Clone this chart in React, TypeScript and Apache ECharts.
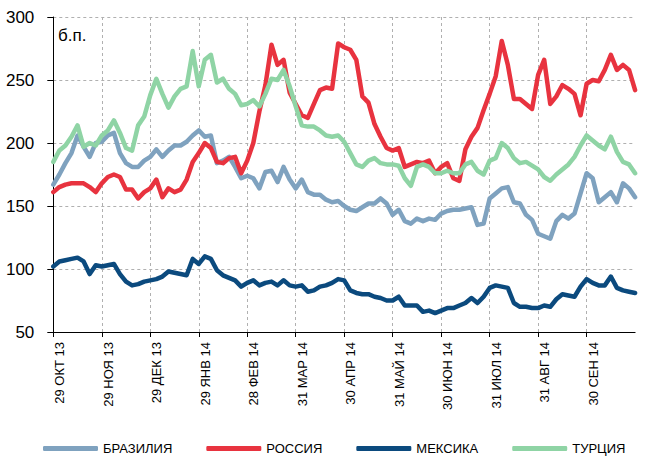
import React, { useEffect, useRef } from "react";
import * as echarts from "echarts";

const monthLabels = [
  "29 ОКТ 13", "29 НОЯ 13", "29 ДЕК 13", "29 ЯНВ 14", "28 ФЕВ 14", "31 МАР 14",
  "30 АПР 14", "31 МАЙ 14", "30 ИЮН 14", "31 ИЮЛ 14", "31 АВГ 14", "30 СЕН 14",
];
const stepsPerMonth = 8;

const seriesNames = ["БРАЗИЛИЯ", "РОССИЯ", "МЕКСИКА", "ТУРЦИЯ"];
const seriesColors = ["#7fa2bf", "#e8333f", "#0b4a7e", "#8fd4a5"];

const brazil = [
  167, 175, 184, 192, 206, 197, 189, 200, 201, 206, 208, 192, 184, 181, 181, 186,
  189, 195, 189, 194, 198, 198, 201, 206, 210, 205, 206, 184, 186, 189, 181, 172,
  174, 172, 164, 177, 178, 169, 181, 171, 164, 171, 161, 159, 159, 155, 153, 154, 150,
  147, 146, 149, 152, 152, 156, 152, 143, 147, 138, 136, 140, 138, 140, 139, 144,
  146, 147, 147, 148, 149, 135, 136, 156, 160, 164, 165, 153, 152, 143, 139, 128, 126,
  124, 138, 143, 140, 144, 160, 176, 172, 153, 157, 161, 153, 168, 164, 157,
];
const russia = [
  161, 165, 167, 168, 168, 168, 165, 161, 168, 173, 175, 173, 163, 163, 156, 161,
  164, 171, 157, 164, 161, 163, 171, 185, 192, 200, 196, 185, 184, 188, 189, 176,
  186, 200, 225, 246, 278, 262, 266, 240, 231, 222, 220, 231, 242, 244, 243, 279, 276,
  274, 266, 237, 232, 215, 205, 196, 194, 196, 181, 183, 185, 184, 186, 176, 181,
  184, 172, 170, 195, 205, 212, 226, 239, 253, 281, 262, 235, 235, 231, 227, 254, 266,
  231, 237, 246, 243, 239, 222, 247, 250, 249, 258, 270, 258, 262, 258, 242,
];
const mexico = [
  102, 106, 107, 108, 109, 106, 96, 103, 102, 103, 104, 96, 90, 87, 88, 90,
  91, 92, 94, 98, 97, 96, 95, 108, 104, 110, 108, 99, 95, 93, 91, 86,
  89, 91, 87, 89, 90, 87, 91, 87, 86, 87, 82, 83, 86, 87, 89, 92, 91,
  83, 81, 80, 80, 78, 77, 75, 75, 78, 71, 71, 71, 66, 67, 65, 67,
  69, 69, 71, 73, 77, 73, 78, 85, 87, 86, 85, 73, 70, 70, 69, 69, 71,
  70, 76, 80, 79, 78, 86, 92, 89, 87, 87, 94, 85, 83, 82, 81,
];
const turkey = [
  185, 194, 198, 205, 214, 197, 200, 198, 206, 210, 218, 208, 196, 194, 214, 221,
  238, 251, 239, 228, 237, 243, 245, 273, 245, 266, 270, 248, 251, 243, 239, 230,
  231, 234, 229, 239, 251, 250, 258, 245, 229, 214, 213, 213, 210, 206, 205, 206, 201,
  192, 183, 181, 186, 188, 184, 183, 183, 182, 172, 166, 181, 183, 181, 176, 176,
  178, 176, 176, 183, 185, 178, 175, 186, 188, 200, 196, 188, 184, 185, 182, 179, 173,
  170, 175, 179, 183, 189, 198, 206, 202, 198, 195, 205, 193, 185, 183, 176,
];

const yTicks = { min: 50, max: 300, interval: 50 };

export default function App() {
  const ref = useRef<HTMLDivElement>(null);

  useEffect(() => {
    if (!ref.current) return;
    const chart = echarts.init(ref.current, undefined, { renderer: "svg" });
    const n = brazil.length;
    const categories: string[] = [];
    for (let i = 0; i < n; i++) {
      const m = i / stepsPerMonth;
      categories.push(i % stepsPerMonth === 0 && m < monthLabels.length ? monthLabels[m] : "#" + i);
    }
    const isMonth = (idx: number) => idx % stepsPerMonth === 0 && idx / stepsPerMonth < monthLabels.length;
    const dataSets = [brazil, russia, mexico, turkey];
    const font = "'Liberation Sans', Arial, sans-serif";

    chart.setOption({
      animation: false,
      backgroundColor: "#ffffff",
      textStyle: { fontFamily: font },
      grid: { left: 53.3, right: 10.9, top: 17, bottom: 125 },
      legend: {
        left: 38,
        top: 437,
        icon: "roundRect",
        itemWidth: 55,
        itemHeight: 5,
        itemGap: 34,
        textStyle: { fontSize: 13, color: "#000", fontFamily: font },
        data: seriesNames,
      },
      graphic: [
        {
          type: "text",
          left: 58,
          top: 27,
          style: { text: "б.п.", fontSize: 17, fill: "#000", fontFamily: font },
        },
      ],
      xAxis: {
        type: "category",
        data: categories,
        boundaryGap: false,
        axisLine: { show: true, lineStyle: { color: "#000", width: 1 } },
        axisTick: { show: true, length: 5, interval: (idx: number) => isMonth(idx), lineStyle: { color: "#000" } },
        axisLabel: {
          rotate: 90,
          margin: 10,
          fontSize: 13,
          color: "#000",
          fontFamily: font,
          interval: (idx: number) => isMonth(idx),
          verticalAlign: "top",
        },
        splitLine: {
          show: true,
          interval: (idx: number) => isMonth(idx),
          lineStyle: { color: "#b0b0b0", type: [3, 3], width: 1 },
        },
      },
      yAxis: {
        type: "value",
        min: yTicks.min,
        max: yTicks.max,
        interval: yTicks.interval,
        axisLine: { show: true, lineStyle: { color: "#000", width: 1 } },
        axisTick: { show: true, length: 6, lineStyle: { color: "#000" } },
        axisLabel: { fontSize: 17, color: "#000", margin: 19, fontFamily: font },
        splitLine: { show: true, lineStyle: { color: "#b0b0b0", type: [3, 3], width: 1 } },
      },
      series: seriesNames.map((name, k) => ({
        name,
        type: "line",
        data: dataSets[k],
        showSymbol: false,
        symbol: "none",
        color: seriesColors[k],
        lineStyle: { width: 4.5, color: seriesColors[k], join: "round", cap: "round" },
        z: 2 + k,
      })),
    });
    return () => chart.dispose();
  }, []);

  return (
    <div
      ref={ref}
      style={{ position: "fixed", left: 0, top: 0, width: 646, height: 457, background: "#fff" }}
    />
  );
}
